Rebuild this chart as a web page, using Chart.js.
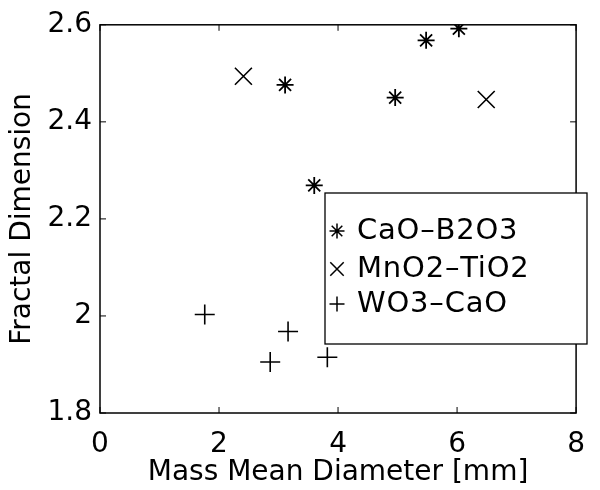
<!DOCTYPE html>
<html>
<head>
<meta charset="utf-8">
<script src="https://cdn.jsdelivr.net/npm/chart.js@4/dist/chart.umd.min.js"></script>
<style>
  html, body { margin: 0; padding: 0; background: #fff; }
  #wrap { width: 600px; height: 490px; }
</style>
</head>
<body>
<div id="wrap"><canvas id="fractalChart" width="600" height="490"></canvas></div>
<script>
const seriesNames = ["CaO\u2013B2O3", "MnO2\u2013TiO2", "WO3\u2013CaO"];

const caoX = [3.11, 3.60, 4.96, 5.48, 6.03];
const caoY = [2.476, 2.269, 2.450, 2.568, 2.592];

const mnoX = [2.41, 6.49];
const mnoY = [2.494, 2.446];

const wo3X = [1.76, 2.86, 3.16, 3.82];
const wo3Y = [2.003, 1.905, 1.968, 1.915];

const xTicks = [0, 2, 4, 6, 8];
const yTicks = [1.8, 2, 2.2, 2.4, 2.6];

const FONT = "'DejaVu Sans', 'Liberation Sans', Arial, sans-serif";

function toPoints(xs, ys) {
  return xs.map((x, i) => ({ x: x, y: ys[i] }));
}

// box round the plot with small inward ticks, like the original figure
const boxPlugin = {
  id: "boxPlugin",
  afterDraw(chart) {
    const { ctx, chartArea: a, scales } = chart;
    ctx.save();
    ctx.strokeStyle = "#000";
    ctx.lineWidth = 1.5;
    ctx.strokeRect(a.left, a.top, a.right - a.left, a.bottom - a.top);
    ctx.lineWidth = 1;
    const len = 6;
    ctx.beginPath();
    xTicks.forEach(v => {
      const px = scales.x.getPixelForValue(v);
      ctx.moveTo(px, a.bottom); ctx.lineTo(px, a.bottom - len);
      ctx.moveTo(px, a.top); ctx.lineTo(px, a.top + len);
    });
    yTicks.forEach(v => {
      const py = scales.y.getPixelForValue(v);
      ctx.moveTo(a.left, py); ctx.lineTo(a.left + len, py);
      ctx.moveTo(a.right, py); ctx.lineTo(a.right - len, py);
    });
    ctx.stroke();
    ctx.restore();
  }
};

// legend box drawn inside the plot, lower right
const legendBox = {
  id: "legendBox",
  afterDraw(chart) {
    const ctx = chart.ctx;
    const left = 325, top = 193, right = 587, bottom = 344;
    ctx.save();
    ctx.fillStyle = "#fff";
    ctx.fillRect(left, top, right - left, bottom - top);
    ctx.strokeStyle = "#000";
    ctx.lineWidth = 1.3;
    ctx.strokeRect(left, top, right - left, bottom - top);
    ctx.font = "29px " + FONT;
    ctx.letterSpacing = "0.8px";
    ctx.textBaseline = "middle";
    ctx.textAlign = "left";
    ctx.fillStyle = "#000";
    chart.data.datasets.forEach((ds, i) => {
      const y = 231 + i * 38 - (i === 2 ? 3 : 0);
      ctx.lineWidth = 1.5;
      Chart.helpers.drawPoint(ctx, {
        pointStyle: ds.pointStyle,
        radius: ds.pointStyle === "crossRot" ? 9.5 : 7.5,
        rotation: 0,
        borderWidth: 1.5
      }, 337, y);
      ctx.fillText(ds.label, 357, y);
    });
    ctx.restore();
  }
};

new Chart(document.getElementById("fractalChart"), {
  type: "scatter",
  data: {
    datasets: [
      {
        label: seriesNames[0],
        data: toPoints(caoX, caoY),
        pointStyle: "star",
        pointRadius: 8.5,
        borderColor: "#000",
        backgroundColor: "#000",
        borderWidth: 1.8
      },
      {
        label: seriesNames[1],
        data: toPoints(mnoX, mnoY),
        pointStyle: "crossRot",
        pointRadius: 12,
        borderColor: "#000",
        backgroundColor: "#000",
        borderWidth: 1.6
      },
      {
        label: seriesNames[2],
        data: toPoints(wo3X, wo3Y),
        pointStyle: "cross",
        pointRadius: 10,
        borderColor: "#000",
        backgroundColor: "#000",
        borderWidth: 1.6
      }
    ]
  },
  options: {
    responsive: false,
    animation: false,
    events: [],
    layout: { padding: { top: 21, right: 11, left: 0, bottom: 0 } },
    plugins: {
      legend: { display: false },
      tooltip: { enabled: false }
    },
    scales: {
      x: {
        type: "linear",
        min: 0,
        max: 8,
        afterBuildTicks: s => { s.ticks = xTicks.map(v => ({ value: v })); },
        afterFit: s => { s.height = 77; },
        grid: { display: false, drawTicks: false },
        border: { display: false },
        ticks: {
          color: "#000",
          padding: 15,
          font: { size: 28, family: FONT },
          callback: v => String(v)
        },
        title: {
          display: true,
          text: "Mass Mean Diameter [mm]",
          color: "#000",
          font: { size: 28, family: FONT },
          padding: { top: 0, bottom: 0 }
        }
      },
      y: {
        type: "linear",
        min: 1.8,
        max: 2.6,
        afterBuildTicks: s => { s.ticks = yTicks.map(v => ({ value: v })); },
        afterFit: s => { s.width = 100; },
        grid: { display: false, drawTicks: false },
        border: { display: false },
        ticks: {
          color: "#000",
          padding: 8,
          font: { size: 28, family: FONT },
          callback: v => String(Math.round(v * 10) / 10)
        },
        title: {
          display: true,
          text: "Fractal Dimension",
          color: "#000",
          font: { size: 28, family: FONT },
          padding: { top: 6, bottom: 0 }
        }
      }
    }
  },
  plugins: [boxPlugin, legendBox]
});
</script>
</body>
</html>
